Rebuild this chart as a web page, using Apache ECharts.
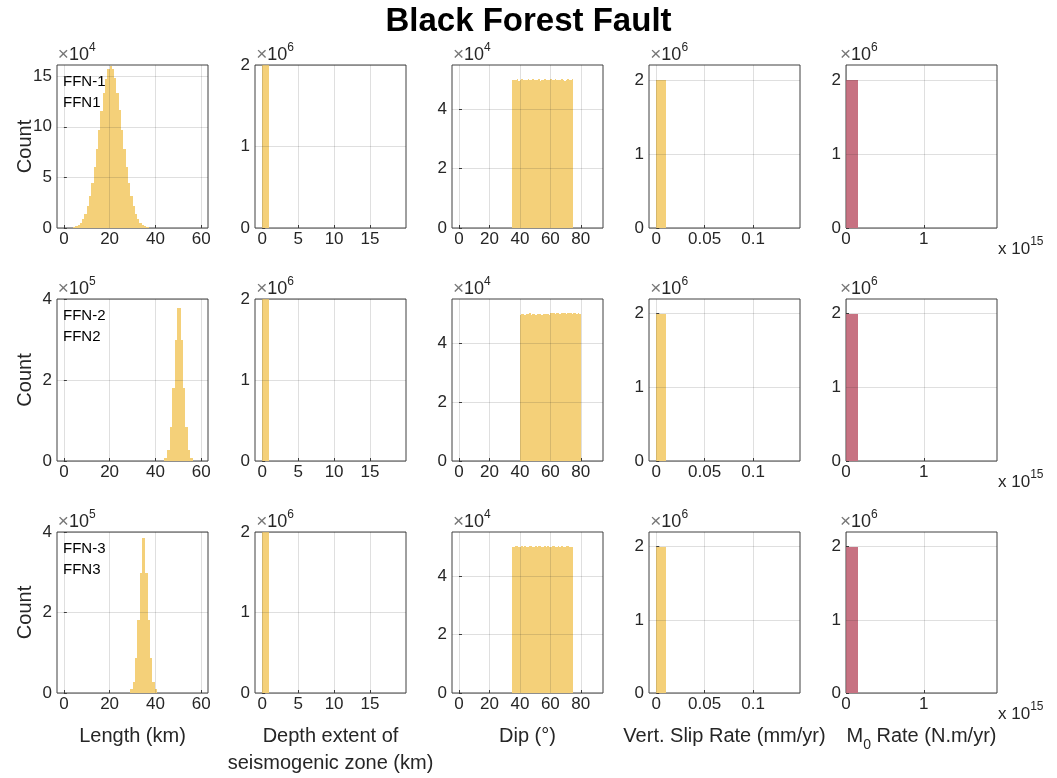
<!DOCTYPE html>
<html>
<head>
<meta charset="utf-8">
<title>Black Forest Fault</title>
<script src="https://cdn.jsdelivr.net/npm/echarts@6/dist/echarts.min.js"></script>
<style>
  html, body { margin: 0; padding: 0; background: #fff; }
  #chart { width: 1057px; height: 778px; }
</style>
</head>
<body>
<div id="chart"></div>
<script>
// ---- data ----
var rowNames = [["FFN-1", "FFN1"], ["FFN-2", "FFN2"], ["FFN-3", "FFN3"]];
var xLabels = ["Length (km)", "Depth extent of\nseismogenic zone (km)", "Dip (°)",
  "Vert. Slip Rate (mm/yr)", "{m|M}{sub|0}{m| Rate (N.m/yr)}"];

// length (km), bin edges and counts
var length1Edges = [4, 5, 6, 7, 8, 9, 10, 11, 12, 13, 14, 15, 16, 17, 18, 19, 20, 21,
  22, 23, 24, 25, 26, 27, 28, 29, 30, 31, 32, 33, 34, 35, 36, 37];
var length1Counts = [900, 1800, 3200, 5400, 9000, 14300, 21800, 31600, 44500, 60000,
  78000, 97200, 116000, 133500, 147500, 157000, 160500, 157200, 147800, 133000,
  116300, 97000, 77700, 60200, 44300, 31800, 21600, 14100, 9100, 5400, 3100, 1800, 950];
var length2Edges = [43.8, 45.2, 46.4, 47.4, 48.4, 49.3, 51.1, 52.2, 53.1, 54.1, 55.1, 56.3];
var length2Counts = [7000, 27000, 85000, 180000, 300000, 378000, 300000, 180000, 85000, 27000, 7000];
var length3Edges = [28.9, 30.1, 31.1, 32.1, 33.1, 34.1, 35.6, 36.6, 37.6, 38.6, 39.7, 40.6];
var length3Counts = [9000, 28000, 86000, 181000, 298000, 385000, 298000, 181000, 86000, 28000, 9000];

// depth extent of seismogenic zone (km)
var depthEdges = [0, 1];
var depthCounts = [2000000];

// dip (deg), 1 degree bins
var dipStart = [35, 40, 35];
var dipBinWidth = 1;
var dip1Counts = [49800, 50100, 49900, 50200, 49700, 50000, 50300, 49900, 50100, 49800,
  50200, 50000, 49900, 50400, 50100, 49800, 50000, 50200, 49700, 50100,
  49900, 50300, 50000, 49800, 50100, 50200, 49900, 50000, 50400, 49800,
  50100, 49900, 50200, 50000, 49700, 50100, 50300, 49900, 50000, 50200];
var dip2Counts = [49600, 49800, 50000, 49700, 49900, 49800, 50100, 49700, 49900, 49800,
  49700, 50000, 49800, 49900, 49600, 49800, 50000, 49900, 49800, 49700,
  50200, 50100, 50300, 50000, 50200, 50100, 49900, 50200, 50300, 50100,
  50000, 50200, 50100, 50400, 50000, 50100, 50200, 49900, 50100, 50000];
var dip3Counts = [50000, 49800, 50100, 50300, 49900, 50000, 50200, 49800, 50100, 50000,
  49900, 50200, 50100, 49800, 50000, 50300, 49900, 50100, 50200, 49800,
  50000, 50100, 49900, 50200, 50000, 49800, 50100, 50300, 49900, 50000,
  50200, 49900, 50100, 50000, 49800, 50200, 50100, 49900, 50000, 49900];

// vertical slip rate (mm/yr) and moment rate (N.m/yr)
var slipEdges = [0, 0.01];
var slipCounts = [2000000];
var momentEdges = [0, 1.6e14];
var momentCounts = [2000000];

// tick labels
var lengthTicks = [0, 20, 40, 60];
var depthTicks = [0, 5, 10, 15];
var dipTicks = [0, 20, 40, 60, 80];
var slipTicks = [0, 0.05, 0.1];
var momentTicks = [0, 1e15];
var countTicksLen1 = [0, 50000, 100000, 150000];
var countTicksLen23 = [0, 200000, 400000];
var countTicksDip = [0, 20000, 40000];
var countTicksM = [0, 1000000, 2000000];

// ---- helpers ----
function binsFromEdges(edges, counts) {
  var out = [];
  for (var i = 0; i < counts.length; i++) out.push([edges[i], edges[i + 1], counts[i]]);
  return out;
}
function binsFromStart(start, w, counts) {
  var out = [];
  for (var i = 0; i < counts.length; i++) out.push([start + i * w, start + (i + 1) * w, counts[i]]);
  return out;
}
// snap to whole pixels so neighbouring bins don't leave seams
function renderBin(params, api) {
  var p0 = api.coord([api.value(0), api.value(2)]);
  var p1 = api.coord([api.value(1), 0]);
  var x0 = Math.round(p0[0]), x1 = Math.round(p1[0]);
  var y0 = Math.round(p0[1]), y1 = Math.round(p1[1]);
  return {
    type: "rect",
    shape: { x: x0, y: y0, width: x1 - x0, height: y1 - y0 },
    style: { fill: api.visual("color"), stroke: null }
  };
}

var panels = [
  [binsFromEdges(length1Edges, length1Counts), binsFromEdges(depthEdges, depthCounts),
   binsFromStart(dipStart[0], dipBinWidth, dip1Counts), binsFromEdges(slipEdges, slipCounts),
   binsFromEdges(momentEdges, momentCounts)],
  [binsFromEdges(length2Edges, length2Counts), binsFromEdges(depthEdges, depthCounts),
   binsFromStart(dipStart[1], dipBinWidth, dip2Counts), binsFromEdges(slipEdges, slipCounts),
   binsFromEdges(momentEdges, momentCounts)],
  [binsFromEdges(length3Edges, length3Counts), binsFromEdges(depthEdges, depthCounts),
   binsFromStart(dipStart[2], dipBinWidth, dip3Counts), binsFromEdges(slipEdges, slipCounts),
   binsFromEdges(momentEdges, momentCounts)]
];

var xCfg = [
  { min: -3, max: 63, ticks: lengthTicks, div: 1 },
  { min: -1, max: 20, ticks: depthTicks, div: 1 },
  { min: -4.6, max: 94.6, ticks: dipTicks, div: 1 },
  { min: -0.0075, max: 0.1485, ticks: slipTicks, div: 1 },
  { min: 0, max: 1.94e15, ticks: momentTicks, div: 1e15 }
];
var yCfg = [
  [{ max: 161000, ticks: countTicksLen1, exp: 4 }, { max: 2000000, ticks: countTicksM, exp: 6 },
   { max: 55000, ticks: countTicksDip, exp: 4 }, { max: 2200000, ticks: countTicksM, exp: 6 },
   { max: 2200000, ticks: countTicksM, exp: 6 }],
  [{ max: 400000, ticks: countTicksLen23, exp: 5 }, { max: 2000000, ticks: countTicksM, exp: 6 },
   { max: 55000, ticks: countTicksDip, exp: 4 }, { max: 2200000, ticks: countTicksM, exp: 6 },
   { max: 2200000, ticks: countTicksM, exp: 6 }],
  [{ max: 400000, ticks: countTicksLen23, exp: 5 }, { max: 2000000, ticks: countTicksM, exp: 6 },
   { max: 55000, ticks: countTicksDip, exp: 4 }, { max: 2200000, ticks: countTicksM, exp: 6 },
   { max: 2200000, ticks: countTicksM, exp: 6 }]
];

var FONT = "Liberation Sans, Arial, Helvetica, sans-serif";
var TXT = "#262626";
var colLeft = [57, 255, 452, 649, 846];
var rowTop = [65, 299, 532];
var rowH = [163, 162, 161];
var panelW = 151;

function fmt(v) { return String(Math.round(v * 1000) / 1000); }

var option = {
  animation: false,
  backgroundColor: "#fff",
  title: {
    text: "Black Forest Fault", left: "center", top: 0,
    textStyle: { fontSize: 33, fontWeight: "bold", color: "#000", fontFamily: FONT }
  },
  grid: [], xAxis: [], yAxis: [], series: [], graphic: []
};

for (var r = 0; r < 3; r++) {
  for (var c = 0; c < 5; c++) {
    var i = r * 5 + c;
    var xc = xCfg[c], yc = yCfg[r][c];
    option.grid.push({
      left: colLeft[c], top: rowTop[r], width: panelW, height: rowH[r],
      show: true, borderColor: "#404040", borderWidth: 1, backgroundColor: "#fff"
    });
    option.xAxis.push({
      type: "value", gridIndex: i, min: xc.min, max: xc.max,
      axisLine: { show: false },
      axisTick: { show: true, inside: true, length: 3, customValues: xc.ticks,
        lineStyle: { color: "#404040" } },
      axisLabel: { show: true, customValues: xc.ticks, margin: 3, fontSize: 17, color: TXT,
        fontFamily: FONT, formatter: (function (d) { return function (v) { return fmt(v / d); }; })(xc.div) },
      splitLine: { show: false },
      name: r === 2 ? xLabels[c] : "",
      nameLocation: "middle", nameGap: 30,
      nameTextStyle: {
        fontSize: 20, color: TXT, fontFamily: FONT, lineHeight: 27, verticalAlign: "top",
        rich: {
          m: { fontSize: 20, color: TXT, fontFamily: FONT },
          sub: { fontSize: 14, color: TXT, fontFamily: FONT, padding: [18, 0, 0, 0] }
        }
      }
    });
    option.yAxis.push({
      type: "value", gridIndex: i, min: 0, max: yc.max,
      axisLine: { show: false },
      axisTick: { show: true, inside: true, length: 3, customValues: yc.ticks,
        lineStyle: { color: "#404040" } },
      axisLabel: { show: true, customValues: yc.ticks, margin: 5, fontSize: 17, color: TXT,
        fontFamily: FONT, formatter: (function (p) { return function (v) { return fmt(v / p); }; })(Math.pow(10, yc.exp)) },
      splitLine: { show: false },
      name: "{x|×}{n|10}{s|" + yc.exp + "}",
      nameLocation: "end", nameGap: -3,
      nameTextStyle: {
        align: "left", verticalAlign: "bottom", padding: [0, 0, 0, -6],
        rich: {
          x: { fontSize: 19, color: "#777", fontFamily: FONT },
          n: { fontSize: 18, color: TXT, fontFamily: FONT },
          s: { fontSize: 12, color: TXT, fontFamily: FONT, padding: [0, 0, 14, 0] }
        }
      }
    });
    option.series.push({
      type: "custom", xAxisIndex: i, yAxisIndex: i,
      renderItem: renderBin, encode: { x: [0, 1], y: 2 },
      itemStyle: { color: c === 4 ? "#C77282" : "#F4D079" },
      silent: true, clip: true,
      data: panels[r][c]
    });
    var gridLines = [];
    xc.ticks.forEach(function (t) { gridLines.push({ xAxis: t }); });
    yc.ticks.forEach(function (t) { gridLines.push({ yAxis: t }); });
    option.series.push({
      type: "line", xAxisIndex: i, yAxisIndex: i, data: [], silent: true,
      markLine: {
        silent: true, symbol: ["none", "none"], animation: false,
        label: { show: false },
        lineStyle: { color: "rgba(38,38,38,0.15)", type: "solid", width: 1 },
        emphasis: { disabled: true },
        data: gridLines
      }
    });
  }
  // row label and y title
  option.graphic.push({
    type: "text", x: 63, y: rowTop[r] + 17,
    style: { text: rowNames[r][0], fontSize: 15, fill: "#000", fontFamily: FONT, verticalAlign: "middle" }
  });
  option.graphic.push({
    type: "text", x: 63, y: rowTop[r] + 38,
    style: { text: rowNames[r][1], fontSize: 15, fill: "#000", fontFamily: FONT, verticalAlign: "middle" }
  });
  option.graphic.push({
    type: "text", x: 25, y: rowTop[r] + rowH[r] / 2, rotation: Math.PI / 2,
    style: { text: "Count", fontSize: 20, fill: TXT, fontFamily: FONT, align: "center", verticalAlign: "middle" }
  });
  option.graphic.push({
    type: "text", x: 998, y: rowTop[r] + rowH[r] + 8,
    style: {
      text: "{a|x 10}{b|15}", verticalAlign: "top",
      rich: {
        a: { fontSize: 17, fill: TXT, fontFamily: FONT },
        b: { fontSize: 12, fill: TXT, fontFamily: FONT, padding: [0, 0, 14, 0] }
      }
    }
  });
}

var chart = echarts.init(document.getElementById("chart"));
chart.setOption(option);
</script>
</body>
</html>
